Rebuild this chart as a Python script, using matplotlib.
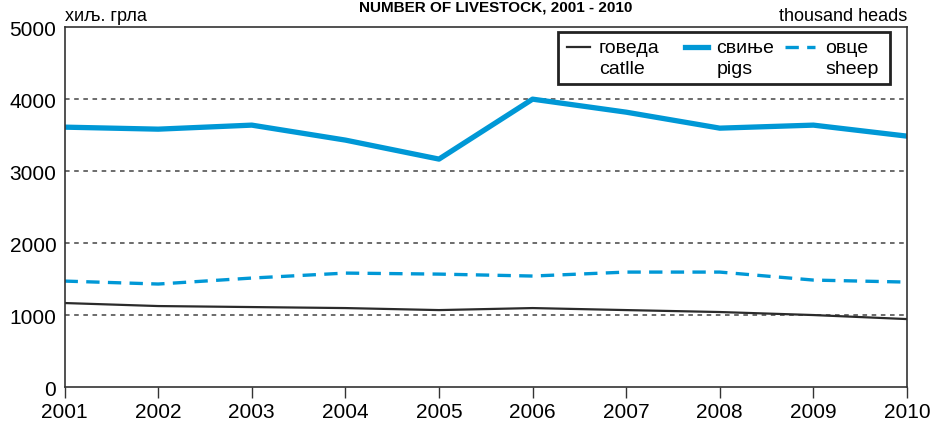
import matplotlib.pyplot as plt
from matplotlib.patches import Rectangle

plt.rcParams['font.family'] = ['Liberation Sans', 'DejaVu Sans']

godine = [2001, 2002, 2003, 2004, 2005, 2006, 2007, 2008, 2009, 2010]
goveda = [1167, 1125, 1111, 1097, 1069, 1097, 1069, 1042, 1000, 944]
svinje = [3611, 3583, 3639, 3431, 3167, 4000, 3819, 3597, 3639, 3486]
ovce = [1472, 1431, 1514, 1583, 1569, 1542, 1597, 1597, 1486, 1458]
nazivi = ['говеда', 'свиње', 'овце']
nazivi_en = ['catlle', 'pigs', 'sheep']

plava = '#0098d6'
stilovi = [dict(color='#2b2b2b', lw=1.6, ls='-'),
           dict(color=plava, lw=3.8, ls='-'),
           dict(color=plava, lw=2.4, ls=(0, (4, 2.5)))]

fig = plt.figure(figsize=(9.36, 4.27), dpi=100)
ax = fig.add_axes([0.069, 0.0913, 0.9, 0.8427])

for serija, st in zip([goveda, svinje, ovce], stilovi):
    ax.plot(godine, serija, **st)

ax.set_xlim(2001, 2010)
ax.set_ylim(0, 5000)
ax.set_xticks(godine)
ax.set_yticks(range(0, 5001, 1000))
for y in range(1000, 5000, 1000):
    ax.axhline(y, color='#444444', lw=1.1, ls=(0, (3, 3)), zorder=0)

ax.tick_params(axis='x', direction='out', length=8, width=1, labelsize=15, pad=3, color='#333333')
ax.tick_params(axis='y', length=0, labelsize=15, pad=6)
for s in ax.spines.values():
    s.set_color('#333333')
    s.set_linewidth(1.2)

ax.text(0.0, 1.01, 'хиљ. грла', transform=ax.transAxes, fontsize=13, va='bottom', ha='left')
ax.text(1.0, 1.01, 'thousand heads', transform=ax.transAxes, fontsize=13, va='bottom', ha='right')
fig.text(0.53, 0.999, 'NUMBER OF LIVESTOCK, 2001 - 2010', fontsize=11, fontweight='bold',
         ha='center', va='top')

# legenda rucno, da bi oznaka stajala uz prvi red teksta
ax.add_patch(Rectangle((0.5855, 0.842), 0.3945, 0.144, transform=ax.transAxes,
                       facecolor='white', edgecolor='#222222', lw=2, zorder=5))
hx = [(0.597, 0.624, 0.634), (0.737, 0.764, 0.774), (0.855, 0.891, 0.903)]
for (x0, x1, xt), st, sr, en in zip(hx, stilovi, nazivi, nazivi_en):
    ax.plot([x0, x1], [0.944, 0.944], transform=ax.transAxes, zorder=6, clip_on=False, **st)
    ax.text(xt, 0.944, sr, transform=ax.transAxes, fontsize=14, va='center', ha='left', zorder=6)
    ax.text(xt, 0.886, en, transform=ax.transAxes, fontsize=14, va='center', ha='left', zorder=6)

fig.savefig('out.png', dpi=100)
